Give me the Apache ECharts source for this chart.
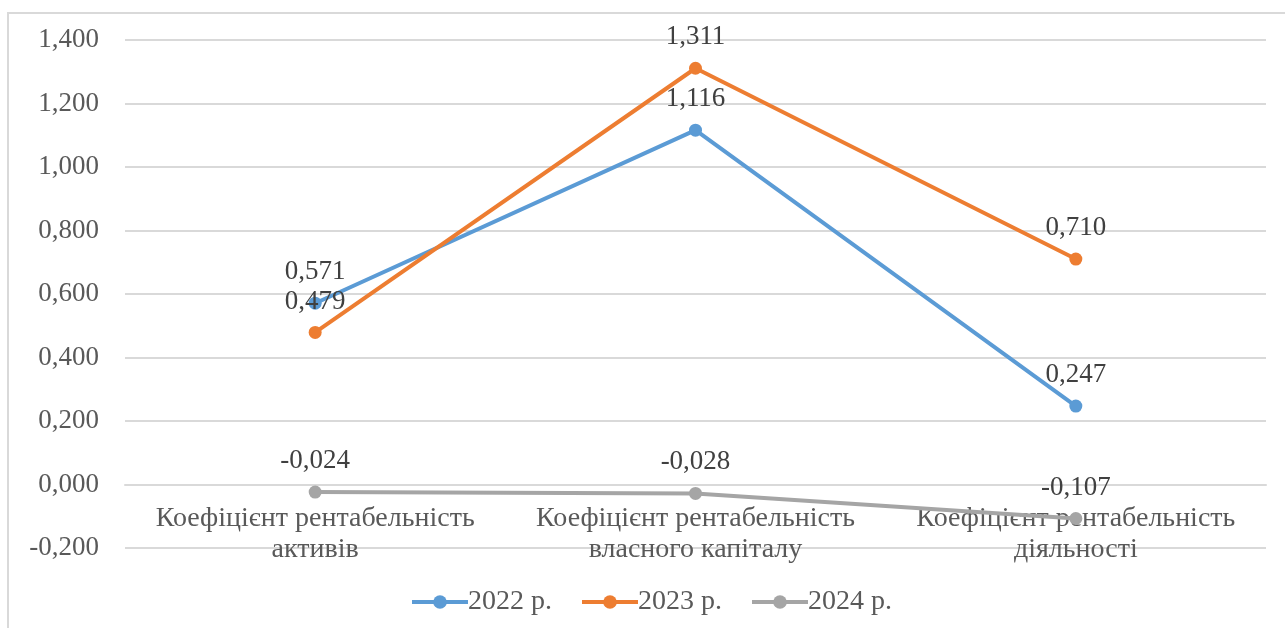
<!DOCTYPE html>
<html>
<head>
<meta charset="utf-8">
<script src="https://cdn.jsdelivr.net/npm/echarts@6/dist/echarts.min.js"></script>
<style>
  html, body { margin: 0; padding: 0; background: #fff; }
  #chart { width: 1285px; height: 628px; }
</style>
</head>
<body>
<div id="chart"></div>
<script>
// Profitability ratios by year
const categories = [
  'Коефіцієнт рентабельність\nактивів',
  'Коефіцієнт рентабельність\nвласного капіталу',
  'Коефіцієнт рентабельність\nдіяльності'
];
const seriesNames = ['2022 р.', '2023 р.', '2024 р.'];
const values2022 = [0.571, 1.116, 0.247];
const values2023 = [0.479, 1.311, 0.710];
const values2024 = [-0.024, -0.028, -0.107];
const seriesColors = ['#5B9BD5', '#ED7D31', '#A5A5A5'];

const FONT = '"Liberation Serif", "DejaVu Serif", serif';
const fmt = v => v.toFixed(3).replace('.', ',');

const Y_MIN = -0.2, Y_MAX = 1.4;
const GRID = { left: 125, right: 19, top: 40, bottom: 80 };
// shift the category axis up so it sits on the zero line
const plotH = 628 - GRID.top - GRID.bottom;
const zeroOffset = -plotH * (0 - Y_MIN) / (Y_MAX - Y_MIN);

const chart = echarts.init(document.getElementById('chart'));

const makeSeries = (name, data, color) => ({
  name: name,
  type: 'line',
  data: data,
  symbol: 'circle',
  symbolSize: 13,
  lineStyle: { width: 4, color: color },
  itemStyle: { color: color },
  label: {
    show: true,
    position: 'top',
    distance: 11,
    formatter: p => fmt(p.value),
    fontFamily: FONT,
    fontSize: 27,
    color: '#404040'
  },
  emphasis: { disabled: true },
  animation: false
});

chart.setOption({
  backgroundColor: '#fff',
  animation: false,
  graphic: [{
    type: 'rect',
    shape: { x: 8, y: 13, width: 1300, height: 640 },
    style: { fill: 'none', stroke: '#D9D9D9', lineWidth: 2 },
    silent: true,
    z: -1
  }],
  grid: GRID,
  legend: {
    bottom: 7,
    left: 405,
    itemWidth: 56,
    itemHeight: 17,
    itemGap: 28,
    lineStyle: { width: 4 },
    textStyle: { fontFamily: FONT, fontSize: 28, color: '#595959', padding: [0, 0, 0, -5] },
    data: seriesNames
  },
  xAxis: {
    type: 'category',
    data: categories,
    boundaryGap: true,
    offset: zeroOffset,
    axisLine: { show: true, onZero: false, lineStyle: { color: '#D9D9D9', width: 2 } },
    axisTick: { show: false },
    axisLabel: {
      fontFamily: FONT,
      fontSize: 28,
      color: '#595959',
      margin: 19,
      lineHeight: 31,
      interval: 0
    }
  },
  yAxis: {
    type: 'value',
    min: Y_MIN,
    max: Y_MAX,
    interval: 0.2,
    axisLine: { show: false },
    axisTick: { show: false },
    splitLine: { lineStyle: { color: '#D9D9D9', width: 2 } },
    axisLabel: {
      fontFamily: FONT,
      fontSize: 27,
      color: '#595959',
      margin: 26,
      formatter: v => fmt(v)
    }
  },
  series: [
    makeSeries(seriesNames[0], values2022, seriesColors[0]),
    makeSeries(seriesNames[1], values2023, seriesColors[1]),
    makeSeries(seriesNames[2], values2024, seriesColors[2])
  ]
});
</script>
</body>
</html>
